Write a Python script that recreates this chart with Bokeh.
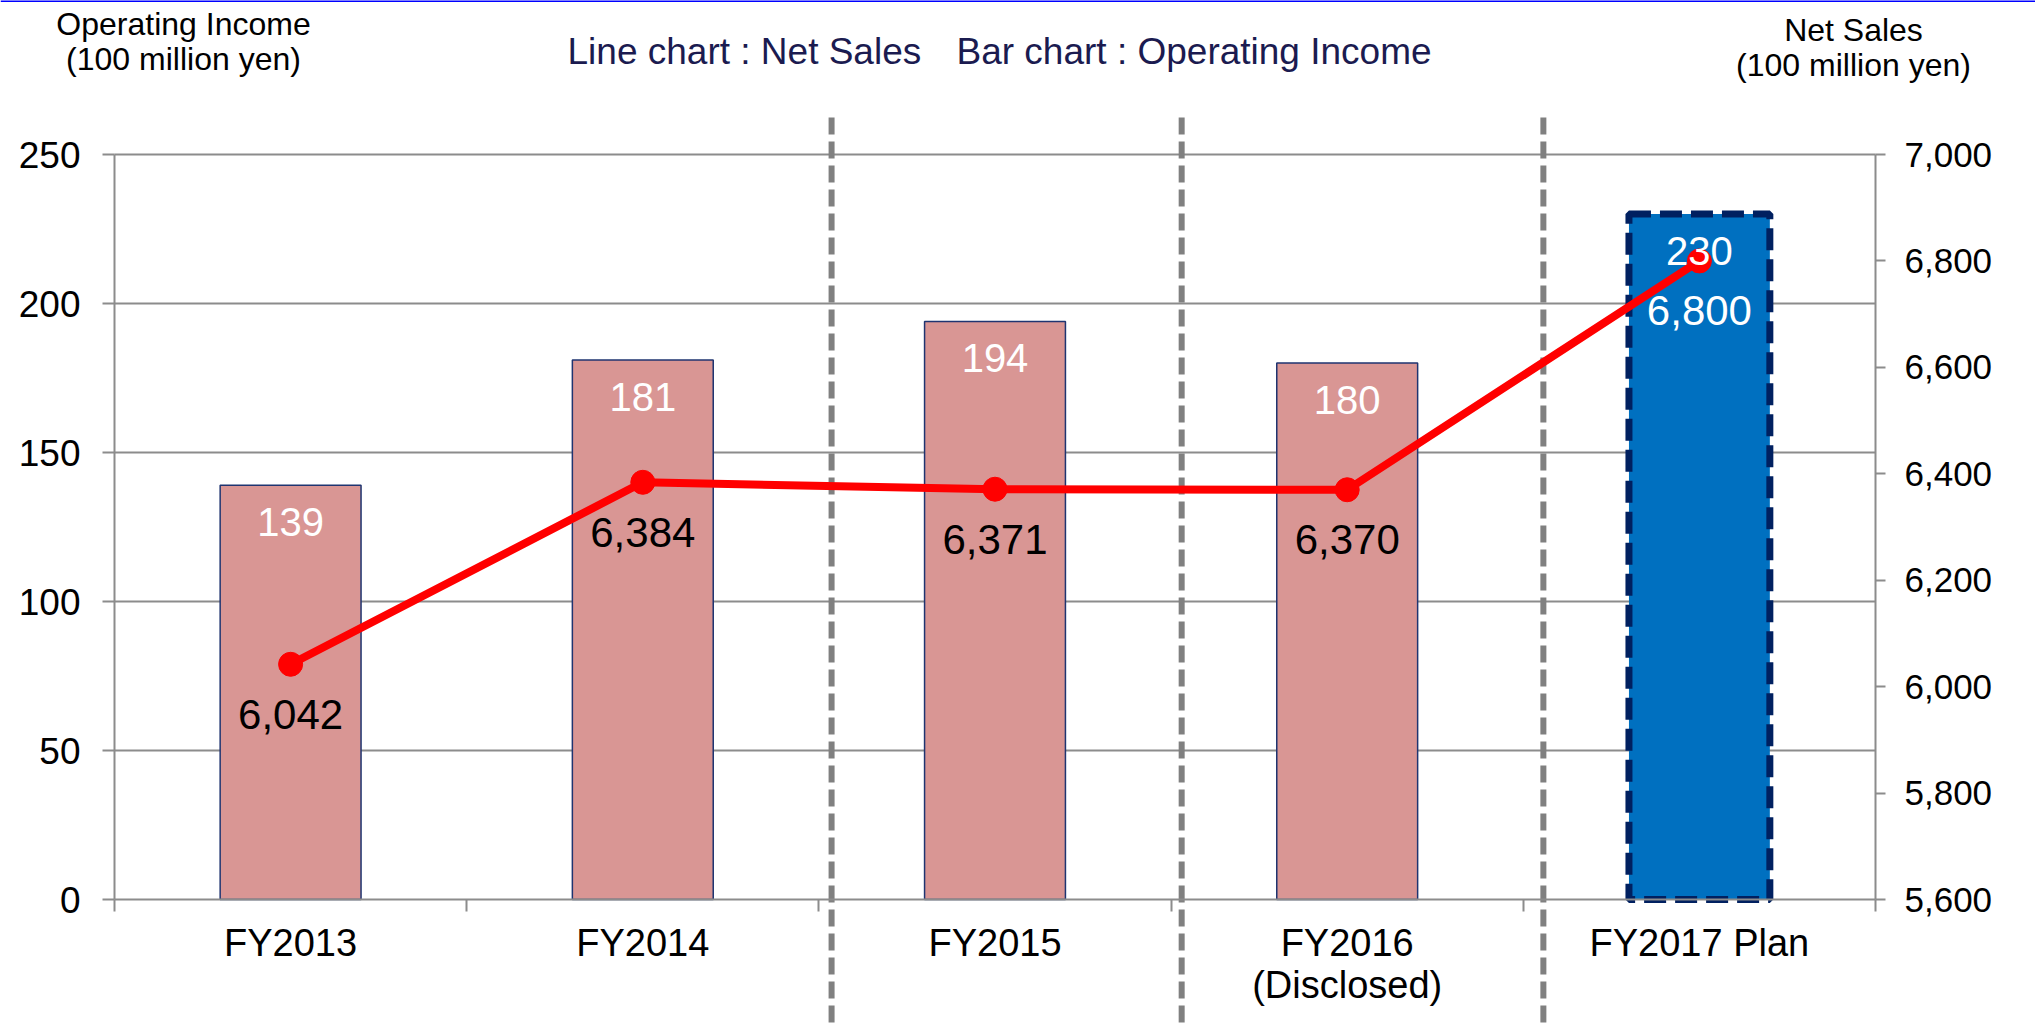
from bokeh.plotting import figure
from bokeh.models import (Range1d, LinearAxis, FixedTicker, NumeralTickFormatter,
                          ColumnDataSource, CDSView, IndexFilter, Label)
from bokeh.embed import file_html
from bokeh.resources import INLINE
from bokeh.core.properties import value

# ---- data ----
categories = ["FY2013", "FY2014", "FY2015", "FY2016\n(Disclosed)", "FY2017 Plan"]
operating_income = [139, 181, 194, 180, 230]
net_sales = [6042, 6384, 6371, 6370, 6800]
income_ticks = [0, 50, 100, 150, 200, 250]
sales_ticks = [5600, 5800, 6000, 6200, 6400, 6600, 6800, 7000]

FONT = "Liberation Sans"
GRAY = "#8c8c8c"
W, H = 2035, 1024

# layout of the plotting area on the canvas (pixels)
PL, PR, PT, PB = 114, 1875, 154, 899
n = len(categories)
xpp = n / (PR - PL)                       # x data units per pixel
ypp = (income_ticks[-1] - income_ticks[0]) / (PB - PT)
spp = (sales_ticks[-1] - sales_ticks[0]) / (PB - PT)

x_range = Range1d(-0.5 - PL * xpp, n - 0.5 + (W - PR) * xpp)
y_range = Range1d(income_ticks[0] - (H - PB) * ypp, income_ticks[-1] + PT * ypp)
s_range = Range1d(sales_ticks[0] - (H - PB) * spp, sales_ticks[-1] + PT * spp)

def px_x(px):
    return -0.5 + (px - PL) * xpp

def px_y(py):
    return (PB - py) * ypp

xs = list(range(n))
src = ColumnDataSource(dict(
    x=xs,
    income=operating_income,
    sales=net_sales,
    income_lbl=[str(v) for v in operating_income],
    sales_lbl=[f"{v:,}" for v in net_sales],
    sales_color=["black", "black", "black", "black", "white"],
))

p = figure(width=W, height=H, output_backend="svg", toolbar_location=None,
           x_range=x_range, y_range=y_range, min_border=0,
           min_border_left=0, min_border_right=0, min_border_top=0, min_border_bottom=0)
p.outline_line_color = None
p.background_fill_color = "white"
p.border_fill_color = "white"
p.extra_y_ranges = {"sales": s_range}
p.xgrid.visible = False
p.ygrid.visible = False

# x axis: labels at category centers, tick marks at category boundaries
xa = p.xaxis[0]
xa.fixed_location = 0
xa.bounds = (-0.5, n - 0.5)
xa.ticker = FixedTicker(ticks=xs, minor_ticks=[i - 0.5 for i in range(n + 1)])
xa.major_label_overrides = {i: c for i, c in enumerate(categories)}
xa.major_tick_line_color = None
xa.major_tick_out = 12
xa.major_tick_in = 0
xa.minor_tick_out = 12
xa.minor_tick_in = 0
xa.minor_tick_line_color = GRAY
xa.minor_tick_line_width = 2
xa.axis_line_color = GRAY
xa.axis_line_width = 2
xa.major_label_text_font = FONT
xa.major_label_text_font_size = "38px"
xa.major_label_text_color = "black"
xa.major_label_text_line_height = 1.0
xa.major_label_standoff = 10

ya = p.yaxis[0]
ya.fixed_location = -0.5
ya.bounds = (income_ticks[0], income_ticks[-1])
ya.ticker = FixedTicker(ticks=income_ticks)
ya.major_tick_out = 12
ya.major_tick_in = 0
ya.major_tick_line_color = GRAY
ya.major_tick_line_width = 2
ya.axis_line_color = GRAY
ya.axis_line_width = 2
ya.major_label_text_font = FONT
ya.major_label_text_font_size = "37px"
ya.major_label_text_color = "black"
ya.major_label_standoff = 22

ra = LinearAxis(y_range_name="sales", ticker=FixedTicker(ticks=sales_ticks),
                formatter=NumeralTickFormatter(format="0,0"))
ra.fixed_location = n - 0.5
ra.bounds = (sales_ticks[0], sales_ticks[-1])
ra.major_tick_out = 10
ra.major_tick_in = 0
ra.major_tick_line_color = GRAY
ra.major_tick_line_width = 2
ra.axis_line_color = GRAY
ra.axis_line_width = 2
ra.major_label_text_font = FONT
ra.major_label_text_font_size = "35px"
ra.major_label_text_color = "black"
ra.major_label_standoff = 19
p.add_layout(ra, "right")

# horizontal gridlines of the left axis, across the plotting area
p.segment(x0=-0.5, x1=n - 0.5, y0=income_ticks[1:], y1=income_ticks[1:],
          line_color=GRAY, line_width=2)

# thin blue rule along the top edge
p.segment(x0=x_range.start, x1=x_range.end, y0=px_y(0), y1=px_y(0),
          line_color="#0000FF", line_width=3)

# dashed dividers between periods
div_x = [b + off for b, off in [(1.5, 0.036), (2.5, 0.03), (3.5, 0.057)]]
p.segment(x0=div_x, x1=div_x, y0=px_y(117), y1=y_range.start,
          line_color="#808080", line_width=6, line_dash="17 7")

# bars
actual = CDSView(filter=IndexFilter(list(range(n - 1))))
plan = CDSView(filter=IndexFilter([n - 1]))
p.vbar(x="x", top="income", width=0.4, bottom=0, source=src, view=actual,
       fill_color="#D99694", line_color="#1F3470", line_width=1.5)
p.vbar(x="x", top="income", width=0.4, bottom=0, source=src, view=plan,
       fill_color="#0070C0", line_color="#002060", line_width=7, line_dash="22 9")

# line
p.line(x="x", y="sales", source=src, y_range_name="sales", line_color="#FF0000", line_width=8)
p.scatter(x="x", y="sales", source=src, y_range_name="sales", size=24,
          fill_color="#FF0000", line_color="#FF0000")

# data labels
p.text(x="x", y="income", text="income_lbl", source=src, y_offset=37,
       text_align="center", text_baseline="middle", text_color="white",
       text_font=value(FONT), text_font_size="40px")
p.text(x="x", y="sales", text="sales_lbl", source=src, y_range_name="sales", y_offset=50,
       text_align="center", text_baseline="middle", text_color="sales_color",
       text_font=value(FONT), text_font_size="42px")

def add_label(text, x, y, align, size, color="black"):
    p.add_layout(Label(x=px_x(x), y=px_y(y), text=text, text_align=align,
                       text_baseline="alphabetic", text_font=FONT,
                       text_font_size=size, text_color=color))

add_label("Operating Income", 183, 23, "center", "32px")
add_label("(100 million yen)", 183, 58, "center", "32px")
add_label("Net Sales", 1853, 29, "center", "32px")
add_label("(100 million yen)", 1853, 64, "center", "32px")
add_label("Line chart : Net Sales", 567, 51, "left", "37px", "#1B1B50")
add_label("Bar chart : Operating Income", 956, 51, "left", "37px", "#1B1B50")

open("out.html", "w").write(file_html(p, INLINE))
